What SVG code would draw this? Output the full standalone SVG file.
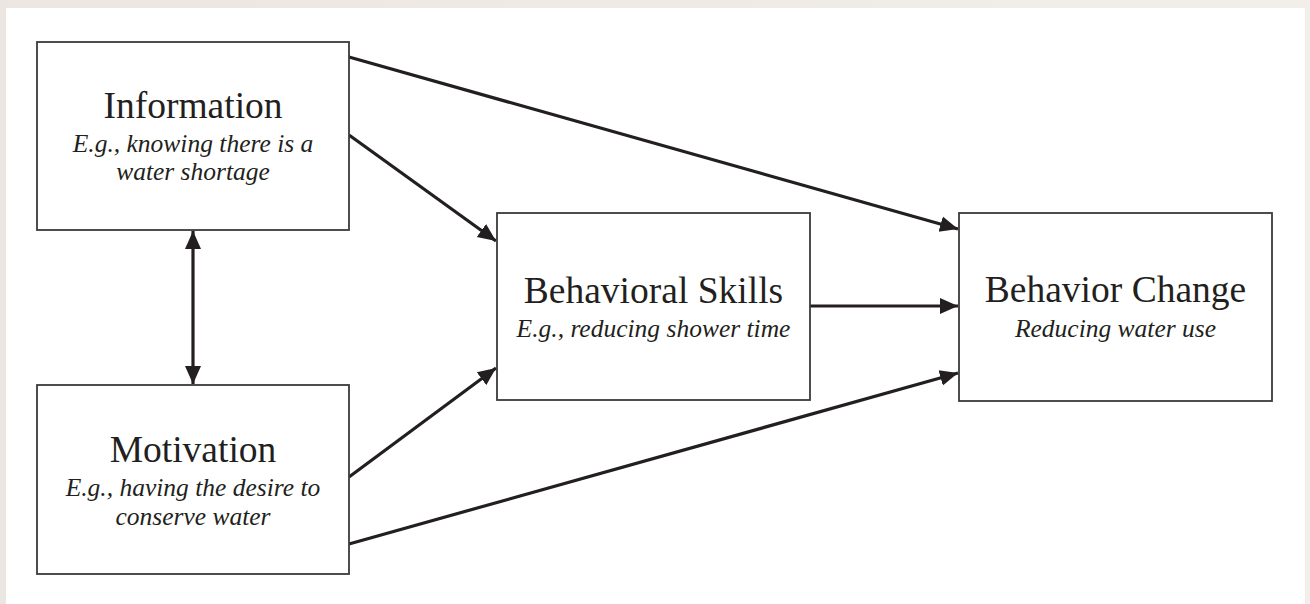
<svg xmlns="http://www.w3.org/2000/svg" width="1310" height="604" viewBox="0 0 1310 604">
  <defs>
    <marker id="arrow" viewBox="0 0 18 18" refX="18" refY="9" markerWidth="18" markerHeight="18" markerUnits="userSpaceOnUse" orient="auto-start-reverse">
      <path d="M0,1 L18,9 L0,17 Z" fill="#231f20"/>
    </marker>
    <linearGradient id="frame" x1="0" y1="0" x2="1" y2="0">
      <stop offset="0" stop-color="#ebe6e1"/>
      <stop offset="1" stop-color="#f2eee9"/>
    </linearGradient>
  </defs>
  <style>
    .box { fill: #ffffff; stroke: #3a3a3a; stroke-width: 1.8; }
    .title { font-family: "Liberation Serif", "Times New Roman", serif; font-size: 37.5px; fill: #231f20; text-anchor: middle; }
    .sub { font-family: "Liberation Serif", "Times New Roman", serif; font-size: 25.5px; font-style: italic; fill: #231f20; text-anchor: middle; }
    .link { stroke: #231f20; stroke-width: 3.2; fill: none; }
  </style>

  <!-- page frame -->
  <rect x="0" y="0" width="1310" height="604" fill="url(#frame)"/>
  <rect x="6" y="8" width="1299" height="596" fill="#ffffff"/>

  <g id="connectors">
    <line class="link" x1="349" y1="57" x2="958" y2="229" marker-end="url(#arrow)"/>
    <line class="link" x1="349" y1="135" x2="496" y2="241" marker-end="url(#arrow)"/>
    <line class="link" x1="349" y1="477" x2="496" y2="368" marker-end="url(#arrow)"/>
    <line class="link" x1="349" y1="544" x2="958" y2="373" marker-end="url(#arrow)"/>
    <line class="link" x1="810" y1="306" x2="958" y2="306" marker-end="url(#arrow)"/>
    <line class="link" x1="193" y1="231" x2="193" y2="384" marker-start="url(#arrow)" marker-end="url(#arrow)"/>
  </g>

  <g id="information">
    <rect class="box" x="37" y="42" width="312" height="188"/>
    <text class="title" x="193" y="118">Information</text>
    <text class="sub" x="193" y="151.5">E.g., knowing there is a</text>
    <text class="sub" x="193" y="180">water shortage</text>
  </g>

  <g id="motivation">
    <rect class="box" x="37" y="385" width="312" height="189"/>
    <text class="title" x="193" y="461.5">Motivation</text>
    <text class="sub" x="193" y="495.5">E.g., having the desire to</text>
    <text class="sub" x="193" y="525">conserve water</text>
  </g>

  <g id="behavioral-skills">
    <rect class="box" x="497" y="213" width="313" height="187"/>
    <text class="title" x="653.5" y="303">Behavioral Skills</text>
    <text class="sub" x="653.5" y="336.5">E.g., reducing shower time</text>
  </g>

  <g id="behavior-change">
    <rect class="box" x="959" y="213" width="313" height="188"/>
    <text class="title" x="1115.5" y="302">Behavior Change</text>
    <text class="sub" x="1115.5" y="336.5">Reducing water use</text>
  </g>
</svg>
